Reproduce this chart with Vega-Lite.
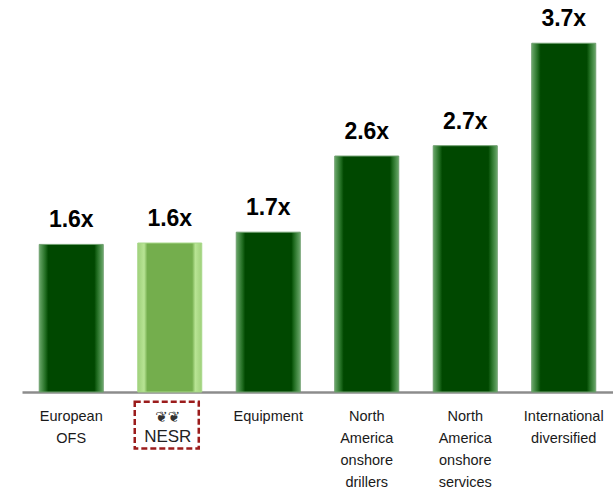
{
  "$schema": "https://vega.github.io/schema/vega-lite/v6.json",
  "width": 591,
  "height": 392,
  "autosize": "none",
  "padding": {"left": 22, "top": 0, "right": 0, "bottom": 98},
  "background": "white",
  "config": {"view": {"stroke": null}, "font": "Liberation Sans"},
  "data": {"values": [
    {"category": "European|OFS", "value": 1.57, "label": "1.6x", "group": "peer"},
    {"category": "NESR", "value": 1.585, "label": "1.6x", "group": "NESR"},
    {"category": "Equipment", "value": 1.70, "label": "1.7x", "group": "peer"},
    {"category": "North|America|onshore|drillers", "value": 2.51, "label": "2.6x", "group": "peer"},
    {"category": "North|America|onshore|services", "value": 2.62, "label": "2.7x", "group": "peer"},
    {"category": "International|diversified", "value": 3.71, "label": "3.7x", "group": "peer"}
  ]},
  "encoding": {
    "x": {
      "field": "category", "type": "nominal",
      "scale": {"domain": ["European|OFS", "NESR", "Equipment", "North|America|onshore|drillers", "North|America|onshore|services", "International|diversified"], "paddingInner": 0.35, "paddingOuter": 0.175},
      "axis": {
        "title": null, "ticks": false, "labelAngle": 0,
        "labelExpr": "datum.label == 'NESR' ? '' : split(datum.label, '|')",
        "labelFont": "Liberation Sans", "labelFontSize": 14.5, "labelColor": "#1a1a1a",
        "labelLineHeight": 22, "labelPadding": 17, "labelBaseline": "top",
        "domainColor": "#8c8c8c", "domainWidth": 2.5
      }
    },
    "y": {
      "field": "value", "type": "quantitative",
      "scale": {"domain": [0, 4.17], "nice": false, "zero": true},
      "axis": null
    }
  },
  "layer": [
    {
      "transform": [{"filter": "datum.group == 'peer'"}],
      "mark": {
        "type": "bar",
        "stroke": "#6f9f6f", "strokeWidth": 1,
        "color": {"x1": 0, "x2": 1, "y1": 0, "y2": 0, "gradient": "linear", "stops": [
          {"offset": 0, "color": "#6aa86a"},
          {"offset": 0.1, "color": "#1e6a1e"},
          {"offset": 0.14, "color": "#004800"},
          {"offset": 0.86, "color": "#004800"},
          {"offset": 0.9, "color": "#1e6a1e"},
          {"offset": 1, "color": "#6aa86a"}
        ]}
      }
    },
    {
      "transform": [{"filter": "datum.group == 'NESR'"}],
      "mark": {
        "type": "bar",
        "stroke": "#a8d88a", "strokeWidth": 1,
        "color": {"x1": 0, "x2": 1, "y1": 0, "y2": 0, "gradient": "linear", "stops": [
          {"offset": 0, "color": "#9fd07a"},
          {"offset": 0.1, "color": "#b8e494"},
          {"offset": 0.15, "color": "#74ae4d"},
          {"offset": 0.85, "color": "#74ae4d"},
          {"offset": 0.9, "color": "#b8e494"},
          {"offset": 1, "color": "#9fd07a"}
        ]}
      }
    },
    {
      "mark": {"type": "text", "baseline": "bottom", "dy": -12, "fontSize": 23, "fontWeight": "bold", "font": "Liberation Sans", "color": "#000000"},
      "encoding": {"text": {"field": "label"}}
    },
    {
      "transform": [{"filter": "datum.group == 'NESR'"}],
      "mark": {"type": "rect", "fill": null, "stroke": "#9b1c1c", "strokeWidth": 2.5, "strokeDash": [6, 3], "xOffset": -3},
      "encoding": {"y": {"datum": -0.105}, "y2": {"datum": -0.6}}
    },
    {
      "transform": [{"filter": "datum.group == 'NESR'"}],
      "mark": {"type": "text", "fontSize": 15, "color": "#333333", "font": "DejaVu Sans", "dx": -2},
      "encoding": {"y": {"datum": -0.27}, "text": {"value": "❦❦"}}
    },
    {
      "transform": [{"filter": "datum.group == 'NESR'"}],
      "mark": {"type": "text", "fontSize": 17, "color": "#222222", "font": "Liberation Sans", "dx": -2},
      "encoding": {"y": {"datum": -0.48}, "text": {"value": "NESR"}}
    }
  ]
}
